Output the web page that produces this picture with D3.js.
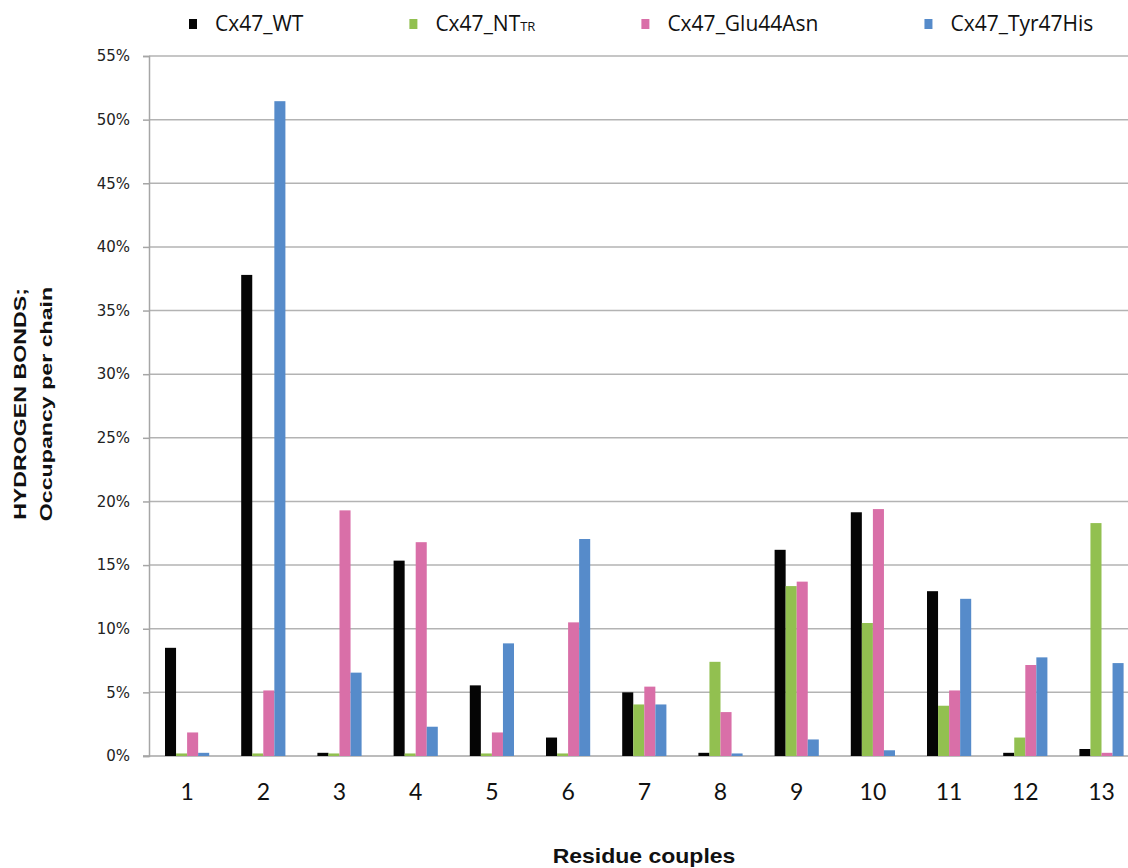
<!DOCTYPE html>
<html>
<head>
<meta charset="utf-8">
<script src="https://cdn.jsdelivr.net/npm/d3@7"></script>
<style>
  html, body { margin: 0; padding: 0; background: #fff; }
  svg { display: block; }
</style>
</head>
<body>
<svg id="chart" width="1128" height="868"></svg>
<script>
// Residue couples on the x axis
const categories = ["1","2","3","4","5","6","7","8","9","10","11","12","13"];

// Hydrogen-bond occupancy per chain (%) for each construct
const wtValues     = [8.5, 37.8, 0.25, 15.35, 5.55, 1.45, 5.0, 0.25, 16.2, 19.15, 12.95, 0.25, 0.55];
const ntTrValues   = [0.2, 0.2, 0.2, 0.2, 0.2, 0.2, 4.05, 7.4, 13.35, 10.45, 3.95, 1.45, 18.3];
const glu44Values  = [1.85, 5.15, 19.3, 16.8, 1.85, 10.5, 5.45, 3.45, 13.7, 19.4, 5.15, 7.15, 0.25];
const tyr47Values  = [0.25, 51.45, 6.55, 2.3, 8.85, 17.05, 4.05, 0.2, 1.3, 0.45, 12.35, 7.75, 7.3];

const seriesNames  = ["Cx47_WT", "Cx47_NT", "Cx47_Glu44Asn", "Cx47_Tyr47His"];
const seriesColors = ["#050505", "#92c050", "#d96fa8", "#568bca"];
const yTicks = [0, 5, 10, 15, 20, 25, 30, 35, 40, 45, 50, 55];

const seriesValues = [wtValues, ntTrValues, glu44Values, tyr47Values];

const svg = d3.select("#chart");
const plotLeft = 149, plotTop = 56, plotBottom = 756;
const step = 76.2;

const x = d3.scaleBand()
  .domain(categories)
  .range([plotLeft, plotLeft + step * categories.length])
  .paddingInner(0.42)
  .paddingOuter(0.21);

const xSub = d3.scaleBand()
  .domain(d3.range(seriesNames.length))
  .range([0, x.bandwidth()]);

const y = d3.scaleLinear().domain([0, 55]).range([plotBottom, plotTop]);

// horizontal gridlines
svg.append("g")
  .selectAll("line")
  .data(yTicks.filter(t => t > 0))
  .join("line")
  .attr("x1", plotLeft)
  .attr("x2", 1128)
  .attr("y1", d => y(d))
  .attr("y2", d => y(d))
  .attr("stroke", "#b3b3b3")
  .attr("stroke-width", 1.5);

// y axis
const yAxis = d3.axisLeft(y)
  .tickValues(yTicks)
  .tickFormat(d => d + "%")
  .tickSize(6)
  .tickPadding(13);

const gy = svg.append("g")
  .attr("transform", `translate(${plotLeft},0)`)
  .call(yAxis);
gy.select(".domain").attr("stroke", "#a6a6a6").attr("stroke-width", 1.5);
gy.selectAll(".tick line").attr("stroke", "#a6a6a6").attr("stroke-width", 1.5);
gy.selectAll(".tick text")
  .attr("fill", "#222")
  .style("font-family", "'DejaVu Sans', sans-serif")
  .style("font-size", "15px");

// baseline
svg.append("line")
  .attr("x1", plotLeft - 6).attr("x2", 1128)
  .attr("y1", plotBottom).attr("y2", plotBottom)
  .attr("stroke", "#a6a6a6").attr("stroke-width", 1.5);

// bars
const groups = svg.append("g")
  .selectAll("g")
  .data(categories)
  .join("g")
  .attr("transform", d => `translate(${x(d)},0)`);

groups.selectAll("rect")
  .data((d, i) => seriesValues.map((vals, s) => ({ s, v: vals[i] })))
  .join("rect")
  .attr("x", d => xSub(d.s))
  .attr("width", xSub.bandwidth())
  .attr("y", d => y(d.v))
  .attr("height", d => y(0) - y(d.v))
  .attr("fill", d => seriesColors[d.s]);

// x axis labels
const xAxis = d3.axisBottom(x).tickSize(0).tickPadding(0);
const gx = svg.append("g")
  .attr("transform", `translate(0,${plotBottom})`)
  .call(xAxis);
gx.select(".domain").remove();
gx.selectAll(".tick text")
  .attr("y", 28)
  .attr("fill", "#111")
  .style("font-family", "Lato, sans-serif")
  .style("font-size", "23px");

// axis titles
svg.append("text")
  .attr("transform", "translate(644,863) scale(1.18,1)")
  .attr("text-anchor", "middle")
  .style("font-family", "'Liberation Sans', Arial, sans-serif")
  .style("font-weight", "bold")
  .style("font-size", "19.5px")
  .attr("fill", "#111")
  .text("Residue couples");

const yTitle = svg.append("text")
  .attr("transform", "translate(0,404) rotate(-90) scale(1.45,1)")
  .attr("text-anchor", "middle")
  .style("font-family", "'Liberation Sans', Arial, sans-serif")
  .style("font-weight", "bold")
  .style("font-size", "16px")
  .attr("fill", "#111");
yTitle.append("tspan").attr("x", 0).attr("y", 26).text("HYDROGEN BONDS;");
yTitle.append("tspan").attr("x", 0).attr("y", 52).text("Occupancy per chain");

// legend: entries laid out left to right from their measured text widths
const legend = svg.append("g");
let cursor = 189;
seriesNames.forEach((name, i) => {
  const item = legend.append("g").attr("transform", `translate(${cursor},0)`);
  item.append("rect")
    .attr("x", 0).attr("y", 19)
    .attr("width", 8).attr("height", 10)
    .attr("fill", seriesColors[i]);
  const t = item.append("text")
    .attr("x", 26).attr("y", 31)
    .attr("fill", "#111")
    .style("font-family", "'Open Sans', sans-serif")
    .style("font-size", "21px");
  t.append("tspan").text(name);
  if (name === "Cx47_NT") {
    t.append("tspan").style("font-size", "13px").text("TR");
  }
  cursor += 26 + t.node().getComputedTextLength() + 106;
});
</script>
</body>
</html>
